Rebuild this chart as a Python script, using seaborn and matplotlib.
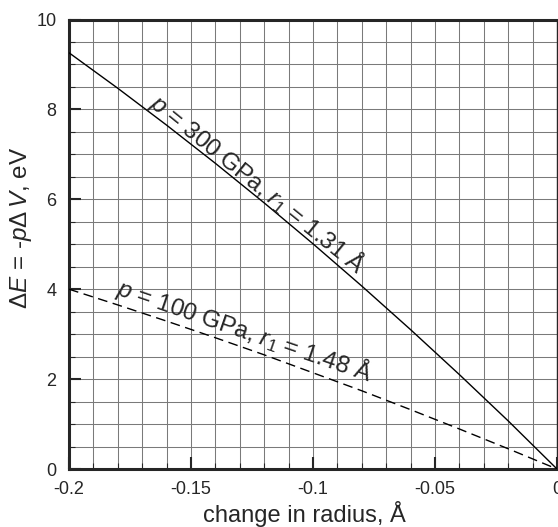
import matplotlib
matplotlib.use("Agg")
import matplotlib.pyplot as plt
from matplotlib.ticker import MultipleLocator, FixedLocator, FixedFormatter
import seaborn as sns
import pandas as pd

# ---- data ----
dr = [-0.20, -0.18, -0.16, -0.14, -0.12, -0.10, -0.08, -0.06, -0.04, -0.02, 0.0]
e_300 = [9.26, 8.47, 7.65, 6.80, 5.92, 5.01, 4.07, 3.10, 2.10, 1.07, 0.0]
e_100 = [4.00, 3.65, 3.29, 2.92, 2.54, 2.14, 1.74, 1.32, 0.89, 0.45, 0.0]
series_names = ["p300", "p100"]
label_300 = r"$p$ = 300 GPa, $r_1$ = 1.31 Å"
label_100 = r"$p$ = 100 GPa, $r_1$ = 1.48 Å"
x_ticks = [-0.2, -0.15, -0.1, -0.05, 0.0]
x_tick_labels = ["-0.2", "-0.15", "-0.1", "-0.05", "0"]
y_ticks = [0, 2, 4, 6, 8, 10]
y_tick_labels = ["0", "2", "4", "6", "8", "10"]
x_label = "change in radius, Å"
y_label = r"$\Delta E$ = -$p\Delta\,V$, eV"

sns.set_style("ticks")
plt.rcParams["font.family"] = ["Liberation Sans", "DejaVu Sans"]
plt.rcParams["mathtext.fontset"] = "custom"
plt.rcParams["mathtext.rm"] = "Liberation Sans"
plt.rcParams["mathtext.it"] = "Liberation Sans:italic"
plt.rcParams["mathtext.bf"] = "Liberation Sans:bold"

df = pd.DataFrame({
    "dr": dr * 2,
    "dE": e_300 + e_100,
    "series": [series_names[0]] * len(dr) + [series_names[1]] * len(dr),
})

fig = plt.figure(figsize=(5.58, 5.27), dpi=100)
ax = fig.add_axes([69 / 558, 58 / 527, (557 - 69) / 558, (469 - 19.5) / 527])

sns.lineplot(data=df, x="dr", y="dE", hue="series", style="series",
             palette={"p300": "black", "p100": "black"},
             dashes={"p300": "", "p100": (7, 4)},
             linewidth=1.0, legend=False, ax=ax, zorder=3)

ax.set_xlim(-0.2, 0.0)
ax.set_ylim(0, 10)
ax.xaxis.set_major_locator(FixedLocator(x_ticks))
ax.xaxis.set_major_formatter(FixedFormatter(x_tick_labels))
ax.yaxis.set_major_locator(FixedLocator(y_ticks))
ax.yaxis.set_major_formatter(FixedFormatter(y_tick_labels))
ax.xaxis.set_minor_locator(MultipleLocator(0.01))
ax.yaxis.set_minor_locator(MultipleLocator(0.5))

ax.grid(True, which="both", color="#7a7a7a", linewidth=0.75, zorder=0)
ax.set_axisbelow(True)

ax.tick_params(which="major", direction="in", length=8.5, width=1.5,
               labelsize=13, pad=9, top=False, right=False)
ax.tick_params(which="minor", direction="in", length=4.5, width=0.8,
               top=False, right=False)

for side in ["left", "bottom", "top"]:
    ax.spines[side].set_linewidth(2.2)
ax.spines["right"].set_linewidth(1.0)

ax.set_xlabel(x_label, fontsize=17)
ax.xaxis.set_label_coords((304 - 69) / 488, -(501 - 469) / 449.5)
ax.set_ylabel(y_label, fontsize=17.5)
ax.yaxis.set_label_coords(-(69 - 34) / 488, (469 - 228) / 449.5)

ax.text(-0.1225, 6.34, label_300, rotation=-39,
        rotation_mode="anchor", ha="center", va="center", fontsize=17.5)
ax.text(-0.1279, 3.07, label_100, rotation=-19,
        rotation_mode="anchor", ha="center", va="center", fontsize=17.5)

fig.savefig("out.png", dpi=100)
